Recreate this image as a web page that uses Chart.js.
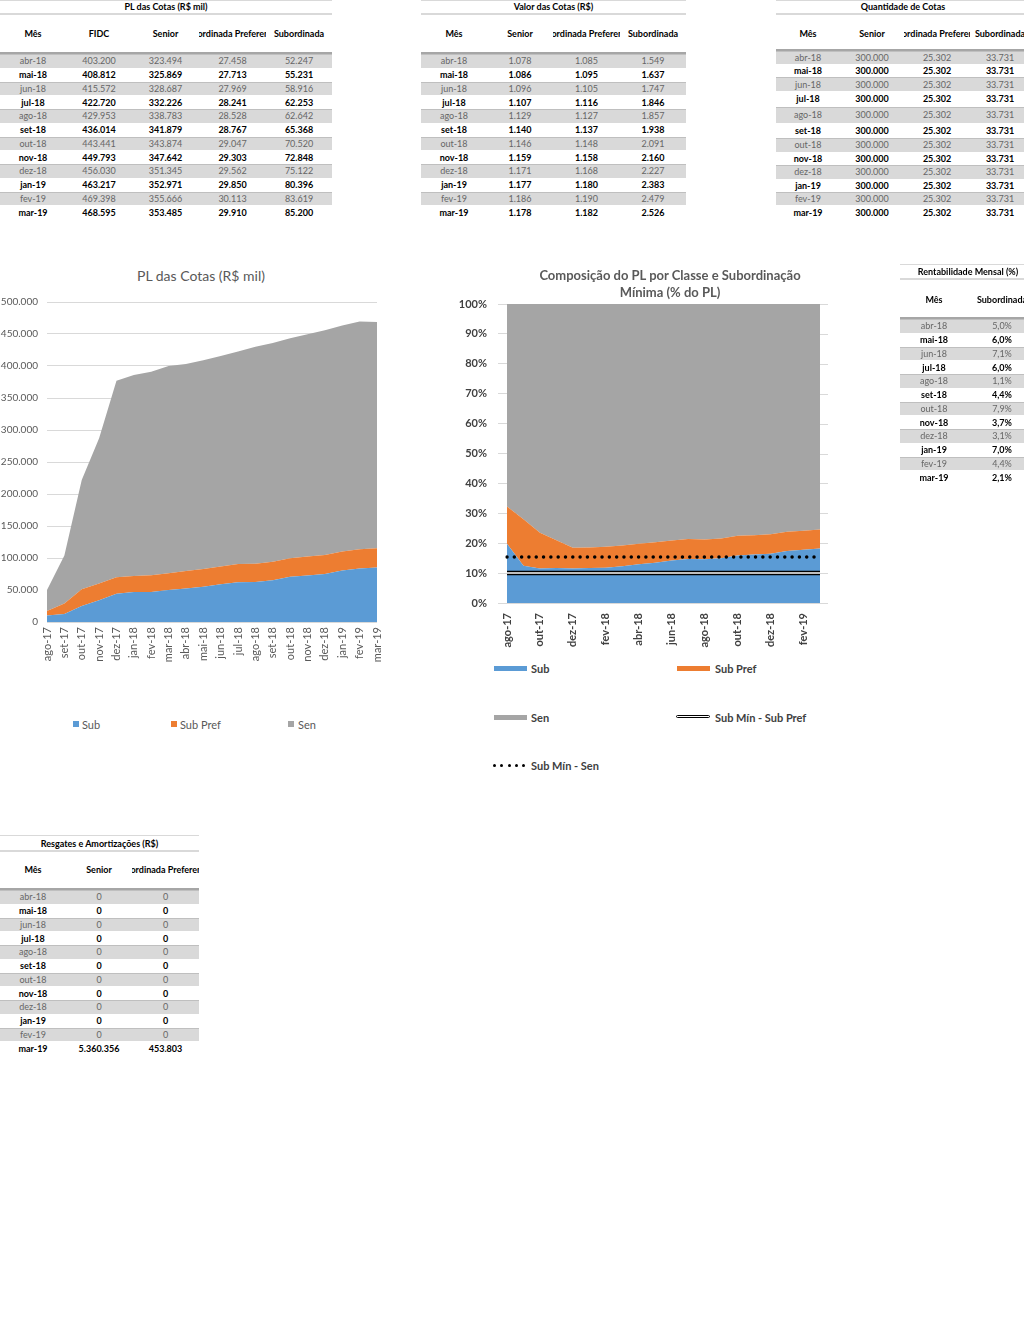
<!DOCTYPE html>
<html><head><meta charset="utf-8">
<script src="https://cdn.jsdelivr.net/npm/chart.js@4.4.1/dist/chart.umd.min.js"></script>
<style>
html,body{margin:0;padding:0;background:#fff;width:1024px;height:1317px;overflow:hidden;font-family:Lato,'Noto Sans',sans-serif;}
#page{position:relative;width:1024px;height:1317px;overflow:hidden;}
.abs{position:absolute;}
.cell{position:absolute;display:flex;align-items:center;justify-content:center;overflow:hidden;white-space:nowrap;font-size:9px;line-height:1;}
.ctitle{position:absolute;color:#595959;text-align:center;white-space:nowrap;}
.lg{position:absolute;font-size:11px;white-space:nowrap;line-height:1;}
</style></head>
<body><div id="page">
<canvas id="c1" class="abs" width="390" height="380" style="left:0;top:290px"></canvas>
<canvas id="c2" class="abs" width="400" height="360" style="left:440px;top:295px"></canvas>
<div class="ctitle" style="left:0;width:402px;top:267px;font-size:14px;line-height:18px;">PL das Cotas (R$ mil)</div>
<div class="ctitle" style="left:470px;width:400px;top:267px;font-size:13px;line-height:17px;font-weight:bold;">Composição do PL por Classe e Subordinação<br>Mínima (% do PL)</div>

<!-- legend chart 1 -->
<div class="abs" style="left:73px;top:721px;width:6px;height:6px;background:#5b9bd5"></div>
<div class="lg" style="left:82px;top:719px;color:#595959">Sub</div>
<div class="abs" style="left:171px;top:721px;width:6px;height:6px;background:#ed7d31"></div>
<div class="lg" style="left:180px;top:719px;color:#595959">Sub Pref</div>
<div class="abs" style="left:288px;top:721px;width:6px;height:6px;background:#a5a5a5"></div>
<div class="lg" style="left:298px;top:719px;color:#595959">Sen</div>

<!-- legend chart 2 -->
<div class="abs" style="left:494px;top:666px;width:33px;height:5px;background:#5b9bd5"></div>
<div class="lg" style="left:531px;top:663px;color:#404040;font-weight:bold">Sub</div>
<div class="abs" style="left:677px;top:666px;width:33px;height:5px;background:#ed7d31"></div>
<div class="lg" style="left:715px;top:663px;color:#404040;font-weight:bold">Sub Pref</div>
<div class="abs" style="left:494px;top:715px;width:33px;height:5px;background:#a5a5a5"></div>
<div class="lg" style="left:531px;top:712px;color:#404040;font-weight:bold">Sen</div>
<div class="abs" style="left:676px;top:715px;width:32px;height:1.4px;border:1.4px solid #000;border-radius:3px;background:#fff"></div>
<div class="lg" style="left:715px;top:712px;color:#404040;font-weight:bold">Sub Mín - Sub Pref</div>
<div class="abs" id="dots" style="left:493px;top:764px;width:34px;height:3px"></div>
<div class="lg" style="left:531px;top:760px;color:#404040;font-weight:bold">Sub Mín - Sen</div>
</div>
<script>
// ---------- Chart data ----------
const chartMonths = ['ago-17','set-17','out-17','nov-17','dez-17','jan-18','fev-18','mar-18','abr-18','mai-18','jun-18','jul-18','ago-18','set-18','out-18','nov-18','dez-18','jan-19','fev-19','mar-19'];
const chartSub = [10000,12500,25000,34000,44000,47000,47000,50000,52247,55231,58916,62253,62642,65368,70520,72848,75122,80396,83619,85200];
const chartSubPref = [7000,16500,26000,26000,26000,25000,26000,26000,27458,27713,27969,28241,28528,28767,29047,29303,29562,29850,30113,29910];
const chartSen = [33000,75000,171000,227000,307000,314000,318000,324000,323494,325869,328687,332226,338783,341879,343874,347642,351345,352971,355666,353485];

const pctSub = [19.8,12.5,11.5,11.7,11.5,11.7,11.8,12.3,13.0,13.5,14.2,14.7,14.6,15.0,15.9,16.2,16.5,17.4,17.8,18.2];
const pctSubPref = [12.5,15.5,12.0,9.3,7.0,6.9,7.0,6.9,6.8,6.8,6.7,6.7,6.6,6.6,6.6,6.5,6.5,6.4,6.4,6.4];
const pctSen = [67.7,72.0,76.5,79.0,81.5,81.4,81.2,80.8,80.2,79.7,79.1,78.6,78.8,78.4,77.5,77.3,77.0,76.2,75.8,75.4];
const subMinSubPref = [10,10,10,10,10,10,10,10,10,10,10,10,10,10,10,10,10,10,10,10];
const subMinSen = [15.4,15.4,15.4,15.4,15.4,15.4,15.4,15.4,15.4,15.4,15.4,15.4,15.4,15.4,15.4,15.4,15.4,15.4,15.4,15.4];

const yTicksPL = [0,50000,100000,150000,200000,250000,300000,350000,400000,450000,500000];

// ---------- Table data ----------
const tableMonths = ['abr-18','mai-18','jun-18','jul-18','ago-18','set-18','out-18','nov-18','dez-18','jan-19','fev-19','mar-19'];
const plFIDC = [403200,408812,415572,422720,429953,436014,443441,449793,456030,463217,469398,468595];
const plSenior = [323494,325869,328687,332226,338783,341879,343874,347642,351345,352971,355666,353485];
const plSubPref = [27458,27713,27969,28241,28528,28767,29047,29303,29562,29850,30113,29910];
const plSub = [52247,55231,58916,62253,62642,65368,70520,72848,75122,80396,83619,85200];
const valSenior = [1078,1086,1096,1107,1129,1140,1146,1159,1171,1177,1186,1178];
const valSubPref = [1085,1095,1105,1116,1127,1137,1148,1158,1168,1180,1190,1182];
const valSub = [1549,1637,1747,1846,1857,1938,2091,2160,2227,2383,2479,2526];
const qtdSenior = [300000,300000,300000,300000,300000,300000,300000,300000,300000,300000,300000,300000];
const qtdSubPref = [25302,25302,25302,25302,25302,25302,25302,25302,25302,25302,25302,25302];
const qtdSub = [33731,33731,33731,33731,33731,33731,33731,33731,33731,33731,33731,33731];
const rentSub = [5.0,6.0,7.1,6.0,1.1,4.4,7.9,3.7,3.1,7.0,4.4,2.1];
const resgSenior = [0,0,0,0,0,0,0,0,0,0,0,5360356];
const resgSubPref = [0,0,0,0,0,0,0,0,0,0,0,453803];

function fmt(n){return String(Math.round(n)).replace(/\B(?=(\d{3})+(?!\d))/g,'.');}
function fmtPct(n){return n.toFixed(1).replace('.',',')+'%';}

const page = document.getElementById('page');
function el(style, text, cls){
  const d=document.createElement('div'); d.className=cls||'abs'; Object.assign(d.style,style);
  if(text!==undefined){const s=document.createElement('span'); s.textContent=text; d.appendChild(s);}
  page.appendChild(d); return d;
}
function buildTable(c){
  const W = c.cols.reduce((a,b)=>a+b,0);
  if(c.topLine!==undefined) el({left:c.left+'px',top:c.topLine+'px',width:W+'px',height:'1px',background:'#d9d9d9'});
  el({left:c.left+'px',top:(c.titleY-7)+'px',width:W+'px',height:'14px',fontWeight:'bold',color:'#000'},c.title,'cell');
  el({left:c.left+'px',top:c.underline+'px',width:W+'px',height:'2px',background:'#d9d9d9'});
  let x=c.left;
  c.headers.forEach((h,j)=>{el({left:x+'px',top:(c.headerY-7)+'px',width:c.cols[j]+'px',height:'14px',fontWeight:'bold',color:'#000'},h,'cell');x+=c.cols[j];});
  el({left:c.left+'px',top:c.thickY+'px',width:W+'px',height:'2px',background:'#a6a6a6'});
  let y=c.rowTop;
  c.rows.forEach((r,i)=>{
    const h = Array.isArray(c.rowH)?c.rowH[i]:c.rowH;
    const gray = i%2===0;
    if(gray){ el({left:c.left+'px',top:y+'px',width:W+'px',height:h+'px',background:'#d9d9d9',borderTop:'1px solid #bfbfbf',boxSizing:'border-box'}); }
    let cx=c.left;
    r.forEach((v,j)=>{
      el({left:cx+'px',top:y+'px',width:c.cols[j]+'px',height:h+'px',color:gray?'#666':'#000',fontWeight:gray?'normal':'bold'},v,'cell');
      cx+=c.cols[j];
    });
    y+=h;
  });
}
const SP='Subordinada Preferencial';
buildTable({left:0,cols:[66,66,67,67,66],topLine:0,title:'PL das Cotas (R$ mil)',titleY:6,underline:13,headerY:33,thickY:52,rowTop:54,rowH:13.75,
  headers:['Mês','FIDC','Senior',SP,'Subordinada'],
  rows:tableMonths.map((m,i)=>[m,fmt(plFIDC[i]),fmt(plSenior[i]),fmt(plSubPref[i]),fmt(plSub[i])])});
buildTable({left:421,cols:[66,66,67,66],topLine:0,title:'Valor das Cotas (R$)',titleY:6,underline:13,headerY:33,thickY:52,rowTop:54,rowH:13.75,
  headers:['Mês','Senior',SP,'Subordinada'],
  rows:tableMonths.map((m,i)=>[m,fmt(valSenior[i]),fmt(valSubPref[i]),fmt(valSub[i])])});
buildTable({left:776,cols:[64,64,66,60],topLine:0,title:'Quantidade de Cotas',titleY:6,underline:13,headerY:33,thickY:49,rowTop:51,
  rowH:[13,13,14,15.5,16.5,15,13.5,13.5,13.5,13,13.5,14],
  headers:['Mês','Senior',SP,'Subordinada'],
  rows:tableMonths.map((m,i)=>[m,fmt(qtdSenior[i]),fmt(qtdSubPref[i]),fmt(qtdSub[i])])});
buildTable({left:900,cols:[68,68],topLine:264,title:'Rentabilidade Mensal (%)',titleY:271,underline:278,headerY:299,thickY:317,rowTop:319,rowH:13.75,
  headers:['Mês','Subordinada'],
  rows:tableMonths.map((m,i)=>[m,fmtPct(rentSub[i])])});
buildTable({left:0,cols:[66,66,67],topLine:835,title:'Resgates e Amortizações (R$)',titleY:843,underline:850,headerY:869,thickY:888,rowTop:890,rowH:13.75,
  headers:['Mês','Senior',SP],
  rows:tableMonths.map((m,i)=>[m,fmt(resgSenior[i]),fmt(resgSubPref[i])])});

// legend dots
(function(){const d=document.getElementById('dots');for(let k=0;k<5;k++){const s=document.createElement('div');Object.assign(s.style,{position:'absolute',left:(k*7.3)+'px',top:'0',width:'3px',height:'3px',borderRadius:'50%',background:'#000'});d.appendChild(s);}})();

function fitX(h){return s=>{s.height=h;s.paddingLeft=0;s.paddingRight=0;};}
function fitY(w){return s=>{s.width=w;s.paddingTop=0;s.paddingBottom=0;};}

function draw(){
Chart.defaults.font.family = 'Lato';
const T='rgba(0,0,0,0)';
new Chart(document.getElementById('c1'),{
  type:'line',
  data:{labels:chartMonths,datasets:[
    {label:'Sub',data:chartSub,backgroundColor:'#5b9bd5',borderColor:T,borderWidth:0,fill:'origin',pointRadius:0},
    {label:'Sub Pref',data:chartSubPref,backgroundColor:'#ed7d31',borderColor:T,borderWidth:0,fill:'-1',pointRadius:0},
    {label:'Sen',data:chartSen,backgroundColor:'#a5a5a5',borderColor:T,borderWidth:0,fill:'-1',pointRadius:0}
  ]},
  options:{responsive:false,animation:false,
    layout:{padding:{left:0,right:13,top:12,bottom:0}},
    plugins:{legend:{display:false},tooltip:{enabled:false}},
    elements:{line:{tension:0}},
    scales:{
      x:{grid:{display:false,drawTicks:false},border:{display:false},
         ticks:{autoSkip:false,maxRotation:90,minRotation:90,padding:5,color:'#595959',font:{size:11}},
         afterFit:fitX(48)},
      y:{stacked:true,min:0,max:500000,
         afterBuildTicks:s=>{s.ticks=yTicksPL.map(v=>({value:v}));},
         ticks:{color:'#595959',font:{size:10},padding:9,callback:v=>fmt(v)},
         grid:{color:'#d9d9d9',drawTicks:false},border:{display:false},
         afterFit:fitY(47)}
    }
  }
});

const ext={id:'ext',beforeDatasetsDraw(chart){
  const {ctx,chartArea,scales:{y}}=chart;ctx.save();ctx.strokeStyle='#d9d9d9';ctx.lineWidth=1;
  y.ticks.forEach(t=>{const py=Math.round(y.getPixelForValue(t.value))+0.5;ctx.beginPath();ctx.moveTo(chartArea.right,py);ctx.lineTo(chartArea.right+8,py);ctx.stroke();});
  ctx.restore();}};

new Chart(document.getElementById('c2'),{
  type:'line',
  data:{labels:chartMonths,datasets:[
    {label:'Sub',data:pctSub,backgroundColor:'#5b9bd5',borderColor:T,borderWidth:0,fill:'origin',pointRadius:0,order:2},
    {label:'Sub Pref',data:pctSubPref,backgroundColor:'#ed7d31',borderColor:T,borderWidth:0,fill:'-1',pointRadius:0,order:2},
    {label:'Sen',data:pctSen,backgroundColor:'#a5a5a5',borderColor:T,borderWidth:0,fill:'-1',pointRadius:0,order:2},
    {label:'Sub Mín - Sub Pref',data:subMinSubPref,borderColor:'#000',borderWidth:4.5,fill:false,pointRadius:0,stack:'l1',order:1},
    {label:'Sub Mín - Sub Pref (centro)',data:subMinSubPref,borderColor:'#fff',borderWidth:1.5,fill:false,pointRadius:0,stack:'l2',order:0},
    {label:'Sub Mín - Sen',data:subMinSen,borderColor:'#000',borderWidth:3.5,borderDash:[0.01,7.3],borderCapStyle:'round',fill:false,pointRadius:0,stack:'l3',order:0}
  ]},
  options:{responsive:false,animation:false,
    layout:{padding:{left:0,right:20,top:9,bottom:0}},
    plugins:{legend:{display:false},tooltip:{enabled:false}},
    elements:{line:{tension:0}},
    scales:{
      x:{grid:{display:false,drawTicks:false},border:{display:true,color:'#d9d9d9'},
         ticks:{autoSkip:false,maxRotation:90,minRotation:90,padding:10,color:'#404040',font:{size:11,weight:'bold'},
           callback:function(v,i){return i%2===0?this.getLabelForValue(v):'';}},
         afterFit:fitX(52)},
      y:{stacked:true,min:0,max:100,
         ticks:{stepSize:10,color:'#404040',font:{size:11,weight:'bold'},padding:11,callback:v=>v+'%'},
         grid:{color:'#d9d9d9',drawTicks:true,tickLength:9},border:{display:false},
         afterFit:fitY(67)}
    }
  },
  plugins:[ext]
});
}
if(document.fonts&&document.fonts.load){Promise.all([document.fonts.load('11px Lato'),document.fonts.load('bold 11px Lato')]).then(draw,draw);}else{draw();}
</script>
</body></html>
